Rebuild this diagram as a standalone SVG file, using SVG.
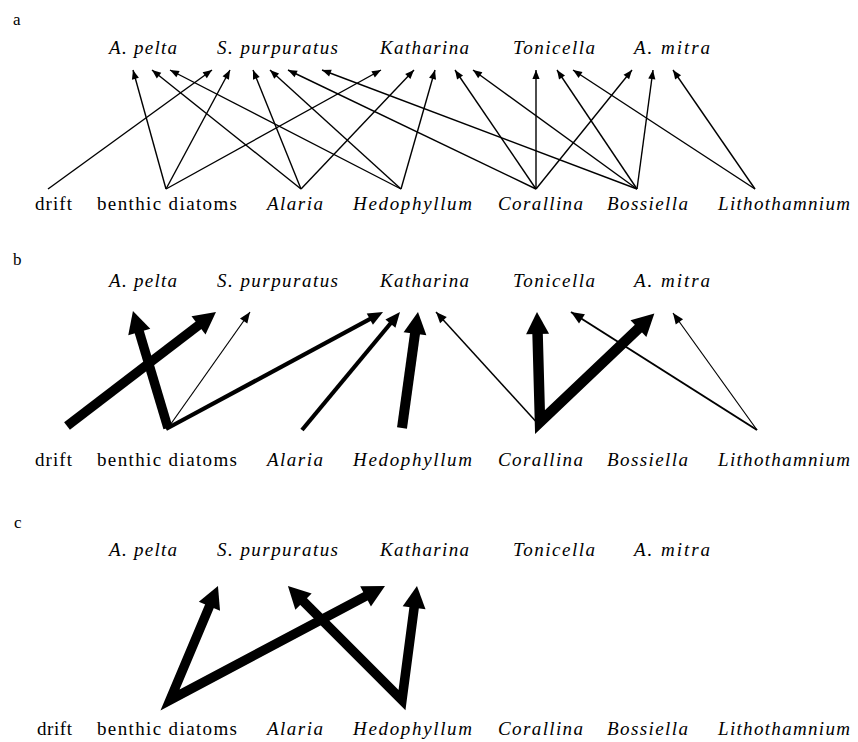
<svg xmlns="http://www.w3.org/2000/svg" width="858" height="742" viewBox="0 0 858 742">
<style>
text{font-family:"Liberation Serif","Times New Roman",serif;font-size:19px;fill:#000}
.sp{font-style:italic}
.pl{font-size:17px}
.c{stroke:#000;fill:none}
.a{stroke-width:1.4}
.t{stroke-width:1.2}
.m{stroke-width:4.2}
.k{stroke-width:9.5}
.k{stroke-linejoin:miter;stroke-miterlimit:6}
</style>
<defs>
<marker id="ha" markerUnits="userSpaceOnUse" orient="auto" overflow="visible" markerWidth="10" markerHeight="10"><path d="M-9,-3.6 L0,0 L-9,3.6 z"/></marker>
<marker id="ht" markerUnits="userSpaceOnUse" orient="auto" overflow="visible" markerWidth="10" markerHeight="10"><path d="M-11,-4.5 L0,0 L-11,4.5 z"/></marker>
<marker id="hs" markerUnits="userSpaceOnUse" orient="auto" overflow="visible" markerWidth="10" markerHeight="10"><path d="M-13,-5.5 L0,0 L-13,5.5 z"/></marker>
<marker id="hm" markerUnits="userSpaceOnUse" orient="auto" overflow="visible" markerWidth="10" markerHeight="10"><path d="M-2,-6.5 L13,0 L-2,6.5 z"/></marker>
<marker id="hL" markerUnits="userSpaceOnUse" orient="auto" overflow="visible" markerWidth="10" markerHeight="10"><path d="M-3,-11.5 L19,0 L-3,11.5 z"/></marker>
<marker id="hLs" markerUnits="userSpaceOnUse" orient="auto-start-reverse" overflow="visible" markerWidth="10" markerHeight="10"><path d="M-3,-11.5 L19,0 L-3,11.5 z"/></marker>
</defs>
<rect width="858" height="742" fill="#fff"/>

<!-- Panel labels -->
<text class="pl" x="13" y="25">a</text>
<text class="pl" x="13" y="265">b</text>
<text class="pl" x="14" y="528">c</text>

<!-- Panel a nodes -->
<g id="a-consumers">
<g id="a-apelta"><text class="sp" x="109" y="54" textLength="68">A. pelta</text></g>
<g id="a-spurpuratus"><text class="sp" x="217" y="54" textLength="121">S. purpuratus</text></g>
<g id="a-katharina"><text class="sp" x="380" y="54" textLength="89">Katharina</text></g>
<g id="a-tonicella"><text class="sp" x="513" y="54" textLength="82">Tonicella</text></g>
<g id="a-amitra"><text class="sp" x="634" y="54" textLength="76">A. mitra</text></g>
</g>
<g id="a-resources">
<g id="a-drift"><text x="35" y="210" textLength="37">drift</text></g>
<g id="a-benthic"><text x="97" y="210" textLength="140">benthic diatoms</text></g>
<g id="a-alaria"><text class="sp" x="267" y="210" textLength="56">Alaria</text></g>
<g id="a-hedophyllum"><text class="sp" x="353" y="210" textLength="119">Hedophyllum</text></g>
<g id="a-corallina"><text class="sp" x="498" y="210" textLength="85">Corallina</text></g>
<g id="a-bossiella"><text class="sp" x="607" y="210" textLength="81">Bossiella</text></g>
<g id="a-lithothamnium"><text class="sp" x="718" y="210" textLength="132">Lithothamnium</text></g>
</g>

<!-- Panel a connectors -->
<g id="a-connectors" class="c a" marker-end="url(#ha)">
<line x1="48" y1="189" x2="212" y2="70"/>
<line x1="166" y1="189" x2="133" y2="70"/>
<line x1="166" y1="189" x2="230" y2="70"/>
<line x1="166" y1="189" x2="381" y2="70"/>
<line x1="301" y1="189" x2="152" y2="70"/>
<line x1="301" y1="189" x2="253" y2="70"/>
<line x1="301" y1="189" x2="414" y2="70"/>
<line x1="401" y1="189" x2="170" y2="70"/>
<line x1="401" y1="189" x2="270" y2="70"/>
<line x1="401" y1="189" x2="435" y2="70"/>
<line x1="536" y1="189" x2="288" y2="70"/>
<line x1="536" y1="189" x2="455" y2="70"/>
<line x1="536" y1="189" x2="536" y2="70"/>
<line x1="536" y1="189" x2="632" y2="70"/>
<line x1="637" y1="189" x2="322" y2="70"/>
<line x1="637" y1="189" x2="473" y2="70"/>
<line x1="637" y1="189" x2="557" y2="70"/>
<line x1="637" y1="189" x2="653" y2="70"/>
<line x1="755" y1="189" x2="573" y2="70"/>
<line x1="755" y1="189" x2="673" y2="70"/>
</g>

<!-- Panel b nodes -->
<g id="b-consumers">
<g id="b-apelta"><text class="sp" x="109" y="287" textLength="68">A. pelta</text></g>
<g id="b-spurpuratus"><text class="sp" x="217" y="287" textLength="121">S. purpuratus</text></g>
<g id="b-katharina"><text class="sp" x="380" y="287" textLength="89">Katharina</text></g>
<g id="b-tonicella"><text class="sp" x="513" y="287" textLength="82">Tonicella</text></g>
<g id="b-amitra"><text class="sp" x="634" y="287" textLength="76">A. mitra</text></g>
</g>
<g id="b-resources">
<g id="b-drift"><text x="35" y="466" textLength="37">drift</text></g>
<g id="b-benthic"><text x="97" y="466" textLength="140">benthic diatoms</text></g>
<g id="b-alaria"><text class="sp" x="267" y="466" textLength="56">Alaria</text></g>
<g id="b-hedophyllum"><text class="sp" x="353" y="466" textLength="119">Hedophyllum</text></g>
<g id="b-corallina"><text class="sp" x="498" y="466" textLength="85">Corallina</text></g>
<g id="b-bossiella"><text class="sp" x="607" y="466" textLength="81">Bossiella</text></g>
<g id="b-lithothamnium"><text class="sp" x="718" y="466" textLength="132">Lithothamnium</text></g>
</g>

<!-- Panel b connectors -->
<g id="b-connectors" class="c">
<line class="k" x1="67" y1="426" x2="200.9" y2="323.6" marker-end="url(#hL)"/>
<line class="k" x1="168" y1="428" x2="138.4" y2="329.2" marker-end="url(#hL)"/>
<line class="t" x1="168" y1="428" x2="250" y2="312" marker-end="url(#ht)"/>
<line class="m" x1="166" y1="429" x2="371.6" y2="318.2" marker-end="url(#hm)"/>
<line class="m" x1="302" y1="430" x2="391.7" y2="322" marker-end="url(#hm)"/>
<line class="k" x1="402" y1="428" x2="415.4" y2="330.8" marker-end="url(#hL)" style="stroke-width:10"/>
<line class="t" x1="540" y1="426" x2="436" y2="312" marker-end="url(#ht)" style="stroke-width:1.5"/>
<path class="k" d="M537.5,331 L540,422 L640.6,326.5" marker-start="url(#hLs)" marker-end="url(#hL)" style="stroke-width:10.5"/>
<line x1="757" y1="430" x2="571" y2="312" marker-end="url(#hs)" style="stroke-width:2"/>
<line class="t" x1="757" y1="430" x2="673" y2="313" marker-end="url(#ht)"/>
</g>

<!-- Panel c nodes -->
<g id="c-consumers">
<g id="c-apelta"><text class="sp" x="109" y="556" textLength="68">A. pelta</text></g>
<g id="c-spurpuratus"><text class="sp" x="217" y="556" textLength="121">S. purpuratus</text></g>
<g id="c-katharina"><text class="sp" x="380" y="556" textLength="89">Katharina</text></g>
<g id="c-tonicella"><text class="sp" x="513" y="556" textLength="82">Tonicella</text></g>
<g id="c-amitra"><text class="sp" x="634" y="556" textLength="76">A. mitra</text></g>
</g>
<g id="c-resources">
<g id="c-drift"><text x="37" y="735" textLength="35">drift</text></g>
<g id="c-benthic"><text x="97" y="735" textLength="140">benthic diatoms</text></g>
<g id="c-alaria"><text class="sp" x="267" y="735" textLength="56">Alaria</text></g>
<g id="c-hedophyllum"><text class="sp" x="353" y="735" textLength="119">Hedophyllum</text></g>
<g id="c-corallina"><text class="sp" x="498" y="735" textLength="85">Corallina</text></g>
<g id="c-bossiella"><text class="sp" x="607" y="735" textLength="81">Bossiella</text></g>
<g id="c-lithothamnium"><text class="sp" x="718" y="735" textLength="132">Lithothamnium</text></g>
</g>

<!-- Panel c connectors -->
<g id="c-connectors" class="c">
<path class="k" d="M210.6,603.5 L170,700 L368.2,594.9" marker-start="url(#hLs)" marker-end="url(#hL)"/>
<path class="k" d="M301.4,599.4 L402,700 L414.5,604.8" marker-start="url(#hLs)" marker-end="url(#hL)"/>
</g>
</svg>
